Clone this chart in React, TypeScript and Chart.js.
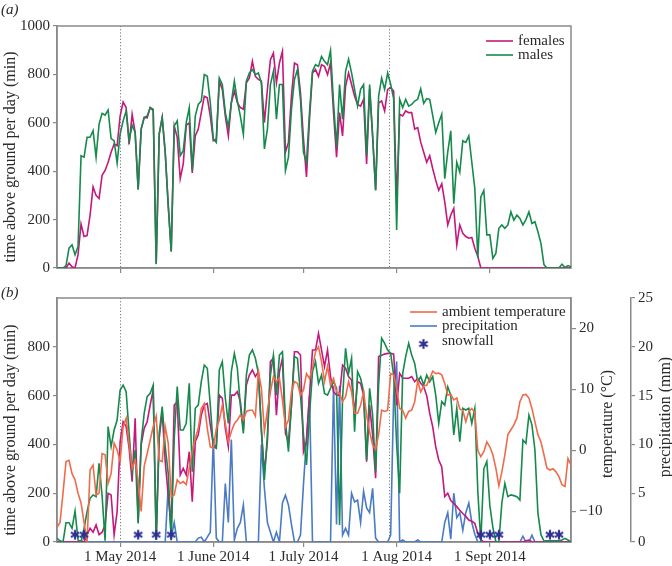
import React, { useEffect, useRef } from 'react';
import { Chart, registerables } from 'chart.js';

Chart.register(...registerables);

// x = day index, day 0 = 10 April 2014
const DAY_COUNT = 172;
const DAYS = Array.from({ length: DAY_COUNT }, (_, i) => i);

const MONTH_TICK_DAYS = [21, 52, 82, 113, 144];
const MONTH_TICK_LABELS = ['1 May 2014', '1 June 2014', '1 July 2014', '1 Aug 2014', '1 Sept 2014'];
const GUIDE_DAYS = [21, 110.6];

const TIME_TICKS_TOP = [0, 200, 400, 600, 800, 1000];
const TIME_TICKS_BOTTOM = [0, 200, 400, 600, 800];
const TEMP_TICKS = [-10, 0, 10, 20];
const PRECIP_TICKS = [0, 5, 10, 15, 20, 25];

// (a) time above ground per day (min)
const TOP_FEMALES = [
  0, 0, 0, 0, 20, 5, 0, 55, 182, 130,
  134, 218, 335, 300, 287, 383, 403, 437, 478, 512,
  505, 628, 686, 663, 512, 635, 560, 325, 574, 622,
  620, 663, 650, 20, 553, 622, 478, 260, 68, 587,
  540, 369, 430, 590, 600, 393, 546, 574, 642, 710,
  703, 628, 526, 533, 772, 738, 628, 546, 683, 731,
  683, 663, 656, 765, 785, 854, 792, 779, 772, 601,
  738, 861, 888, 765, 847, 895, 478, 519, 710, 847,
  840, 724, 533, 376, 615, 806, 820, 792, 840, 833,
  799, 847, 642, 458, 642, 546, 751, 806, 758, 710,
  676, 669, 697, 430, 740, 546, 321, 683, 690, 649,
  738, 745, 731, 273, 635, 628, 649, 642, 642, 574,
  580, 520, 478, 437, 464, 410, 362, 321, 348, 273,
  178, 219, 246, 96, 178, 143, 130, 123, 126, 82,
  48, 0, 0, 0, 0, 0, 0, 0, 0, 0,
  0, 0, 0, 0, 0, 0, 0, 0, 0, 0,
  0, 0, 0, 0, 0, 0, 0, 0, 0, 0,
  0, 0,
];
const TOP_MALES = [
  0, 0, 0, 10, 82, 96, 55, 89, 464, 458,
  540, 540, 567, 458, 594, 639, 632, 653, 535, 526,
  434, 553, 608, 649, 526, 590, 560, 325, 574, 622,
  628, 663, 656, 16, 553, 622, 478, 260, 68, 587,
  608, 464, 485, 601, 662, 403, 628, 676, 690, 799,
  792, 683, 533, 519, 785, 758, 642, 581, 683, 772,
  690, 628, 553, 772, 806, 820, 799, 806, 765, 492,
  574, 758, 813, 615, 758, 758, 403, 458, 656, 779,
  820, 697, 478, 437, 642, 813, 840, 833, 874, 854,
  840, 899, 683, 499, 758, 615, 813, 863, 806, 738,
  669, 738, 758, 464, 758, 546, 321, 710, 785, 738,
  806, 760, 700, 157, 697, 663, 697, 669, 676, 690,
  697, 740, 680, 700, 697, 630, 560, 600, 635, 369,
  480, 567, 266, 437, 396, 526, 519, 546, 437, 328,
  41, 294, 321, 137, 137, 40, 60, 164, 178, 164,
  178, 232, 198, 219, 205, 178, 200, 232, 184, 191,
  150, 102, 14, 0, 0, 0, 0, 0, 16, 2,
  10, 5,
];

// (b)
const BOTTOM_FEMALES = [
  0, 0, 0, 0, 0, 0, 0, 0, 5, 0,
  30, 56, 40, 70, 30, 40, 70, 200, 193, 29,
  124, 411, 493, 473, 384, 247, 507, 83, 398, 466,
  493, 561, 623, 10, 425, 534, 330, 193, 56, 561,
  575, 275, 302, 275, 370, 165, 411, 439, 520, 561,
  568, 480, 398, 391, 602, 589, 466, 391, 602, 602,
  616, 575, 459, 643, 684, 705, 678, 698, 452, 288,
  411, 739, 753, 520, 698, 753, 445, 411, 561, 780,
  780, 766, 370, 411, 602, 787, 787, 855, 787, 719,
  787, 678, 616, 602, 602, 725, 712, 678, 664, 527,
  657, 650, 602, 329, 561, 439, 261, 760, 765, 770,
  773, 773, 770, 560, 691, 671, 671, 671, 678, 657,
  671, 650, 636, 600, 527, 472, 390, 336, 308, 186,
  200, 170, 158, 145, 130, 117, 105, 90, 85, 77,
  35, 10, 0, 0, 0, 0, 0, 0, 0, 0,
  0, 0, 0, 0, 0, 0, 5, 8, 0, 0,
  0, 0, 0, 0, 0, 0, 0, 0, 0, 0,
  0, 0,
];
const BOTTOM_MALES = [
  15, 5, 0, 79, 79, 56, 127, 8, 0, 56,
  124, 179, 193, 186, 322, 190, 5, 473, 391, 459,
  500, 623, 643, 616, 445, 288, 377, 76, 411, 527,
  596, 609, 643, 8, 445, 555, 391, 281, 8, 425,
  637, 459, 459, 486, 650, 288, 548, 561, 657, 725,
  712, 561, 391, 384, 705, 739, 589, 486, 698, 773,
  712, 561, 445, 684, 766, 787, 753, 691, 466, 254,
  439, 684, 766, 602, 766, 780, 493, 370, 561, 760,
  753, 602, 439, 316, 520, 698, 740, 650, 684, 609,
  602, 630, 657, 630, 70, 589, 794, 691, 753, 452,
  698, 671, 616, 336, 630, 520, 288, 643, 835, 814,
  787, 773, 684, 400, 200, 690, 760, 814, 766, 732,
  657, 678, 643, 684, 657, 678, 602, 486, 575, 561,
  636, 602, 439, 548, 411, 548, 541, 548, 486, 548,
  206, 1, 300, 330, 150, 60, 1, 1, 160, 240,
  186, 193, 190, 186, 172, 418, 404, 520, 480, 377,
  117, 30, 4, 5, 5, 5, 5, 5, 8, 15,
  8, 0,
];
// ambient temperature (°C)
const TEMPERATURE_C = [
  -12.6, -11.8, -7, -1.8, -1.6, -3.8, -4.8, -7, -8.6, -11.8,
  -15, -3.2, -2.4, -7.3, -7, -0.5, -0.7, -5.4, -3.8, 1.2,
  0.1, -1.8, 3.9, 5.3, 1, -2.9, -1.6, -4.8, -10, -2.6,
  -0.5, 1.7, 3.9, 5.6, -1.6, -1.8, 3.9, 1.2, -7.6, -7.3,
  -4.8, -5.4, -5.1, -5.6, -2.9, -0.2, 2, 3.6, 6.9, 7.7,
  3.6, 0.6, 0.4, 3.6, 5, 7.4, 4.4, 1.4, 3.1, 4.4,
  5, 5.8, 5, 6.4, 6.6, 6.6, 5.6, 12.9, 10.2, 3.1,
  6.6, 9.6, 12.1, 11.3, 11.8, 8.3, 3.9, 5, 9.6, 11.3,
  11, 9.1, 9.9, 12.6, 11.8, 13.5, 16.2, 17, 14.6, 11.3,
  13.8, 10.7, 11.8, 9.6, 9.4, 8, 8.8, 11.3, 9.6, 6.1,
  6.1, 7.4, 9.6, 5.8, 3.1, 0.9, 0.2, 2.6, 6.6, 6.4,
  6.6, 12.6, 12.4, 10.2, 6.9, 6.6, 5.3, 6.4, 6.6, 8,
  11.4, 9.6, 10.6, 10.7, 11.8, 13, 12.6, 12.7, 12.4, 11,
  9.1, 9.2, 8.3, 8.6, 6.8, 6.6, 4.7, 6.4, 6.9, 6.2,
  0, -1, -0.2, 1.4, 0.6, -0.7, -2.9, -5.8, -3.5, -0.7,
  2.6, 3.4, 4.2, 5.3, 8, 9.1, 9.2, 8.6, 6.9, 4.7,
  2.6, 1.4, -0.7, -2.9, -3.2, -3, -3.5, -4.3, -5.6, -5.9,
  -1.3, -2.4,
];
// precipitation (mm)
const PRECIP_MM = [
  0, 0, 0, 0, 0, 0, 0, 0, 0, 0,
  0, 0, 0, 0, 0, 0, 0, 0, 0, 0,
  0, 0, 0, 0, 0, 0, 0, 0, 0, 0,
  0, 0, 0, 0, 0, 0, 0, 5.7, 0.5, 2,
  0, 0, 0, 0, 0, 0, 0, 0.4, 0.5, 0,
  0.5, 1, 10.6, 0.4, 0, 0, 6, 2, 10.5, 0.2,
  1.4, 2, 3.8, 0, 0, 0, 0, 0, 10, 5.5,
  2, 1, 0, 1, 0, 4, 4.8, 3.8, 1.8, 0,
  0, 0.7, 5.9, 10.6, 15, 0, 0, 0, 0, 0,
  0, 0, 16, 1.8, 16, 0.7, 1.4, 0.7, 5, 4.1,
  4.3, 2, 5.2, 3.5, 3, 5.5, 0.4, 0, 0, 0,
  0, 0.7, 15, 18.5, 0, 0.2, 0, 0, 0, 0,
  0.2, 0, 0, 0, 0, 0, 0, 0, 0, 2,
  3, 0.3, 5, 2.5, 3, 1.2, 3, 4, 2, 0.8,
  0, 0, 0, 0, 0, 0, 0, 0, 0, 0,
  0, 0, 0, 0, 0, 0.6, 0, 0, 0.7, 0,
  0, 0, 0, 0, 0, 0, 0, 0, 0, 0,
  0, 0,
];
const SNOW_DAYS = [6, 9, 27, 33, 38, 141, 144, 147, 164, 167];
const SNOW_MARK_LEVEL = 30;

const SERIF = '"Liberation Serif", "Times New Roman", "DejaVu Serif", serif';
const TEXT = '#2a2a2a';
const AXIS = '#8a8a8a';
const GUIDE = '#7a7a7a';
const MAGENTA = '#c4187c';
const GREEN = '#168a4c';
const ORANGE = '#ef6b4b';
const BLUE = '#4a7bc4';
const SNOW = '#2e3192';
const LW = 1.6;

function makeAsterisk(color: string) {
  const c = document.createElement('canvas');
  c.width = 12;
  c.height = 12;
  const g = c.getContext('2d')!;
  g.strokeStyle = color;
  g.lineWidth = 2.2;
  const r = 4.8;
  for (let k = 0; k < 3; k++) {
    const a = Math.PI / 2 + (k * Math.PI) / 3;
    g.beginPath();
    g.moveTo(6 - r * Math.cos(a), 6 - r * Math.sin(a));
    g.lineTo(6 + r * Math.cos(a), 6 + r * Math.sin(a));
    g.stroke();
  }
  return c;
}

type TextItem = { text: string; x: number; y: number; size: number; rotate?: boolean; italic?: boolean };
type LegendItem = { label: string; color: string; y: number; x0: number; x1: number; textX: number; mark?: boolean };

function decorPlugin(texts: TextItem[], legend: LegendItem[], star: HTMLCanvasElement) {
  return {
    id: 'decor',
    beforeDatasetsDraw(chart: any) {
      const { ctx, chartArea: a, scales } = chart;
      ctx.save();
      ctx.strokeStyle = GUIDE;
      ctx.lineWidth = 1;
      ctx.setLineDash([1.2, 2]);
      GUIDE_DAYS.forEach((d) => {
        const x = Math.round(scales.x.getPixelForValue(d)) + 0.5;
        ctx.beginPath();
        ctx.moveTo(x, a.top);
        ctx.lineTo(x, a.bottom);
        ctx.stroke();
      });
      ctx.setLineDash([]);
      ctx.strokeStyle = AXIS;
      ctx.lineWidth = 1.5;
      ctx.strokeRect(a.left, a.top, a.right - a.left, a.bottom - a.top);
      ctx.restore();
    },
    afterDraw(chart: any) {
      const { ctx } = chart;
      ctx.save();
      ctx.fillStyle = TEXT;
      ctx.textBaseline = 'middle';
      texts.forEach((t) => {
        ctx.font = `${t.italic ? 'italic ' : ''}${t.size}px ${SERIF}`;
        if (t.rotate) {
          ctx.save();
          ctx.translate(t.x, t.y);
          ctx.rotate(-Math.PI / 2);
          ctx.textAlign = 'center';
          ctx.fillText(t.text, 0, 0);
          ctx.restore();
        } else {
          ctx.textAlign = 'left';
          ctx.fillText(t.text, t.x, t.y);
        }
      });
      legend.forEach((l) => {
        if (l.mark) {
          ctx.drawImage(star, (l.x0 + l.x1) / 2 - 6, l.y + 3 - 6);
        } else {
          ctx.strokeStyle = l.color;
          ctx.lineWidth = LW;
          ctx.beginPath();
          ctx.moveTo(l.x0, l.y);
          ctx.lineTo(l.x1, l.y);
          ctx.stroke();
        }
        ctx.fillStyle = TEXT;
        ctx.font = `15px ${SERIF}`;
        ctx.textAlign = 'left';
        ctx.fillText(l.label, l.textX, l.y);
      });
      ctx.restore();
    },
  };
}

const tickFont = { family: SERIF, size: 15 };
const plainLabel = (v: number) => (v < 0 ? '\u2212' + Math.abs(v) : String(v));

function xScale(showLabels: boolean, height: number) {
  return {
    type: 'linear',
    min: 0,
    max: DAY_COUNT - 1,
    afterBuildTicks: (s: any) => {
      s.ticks = MONTH_TICK_DAYS.map((v) => ({ value: v }));
    },
    afterFit: (s: any) => {
      s.height = height;
    },
    ticks: {
      display: showLabels,
      autoSkip: false,
      maxRotation: 0,
      font: tickFont,
      color: TEXT,
      padding: 1,
      callback: (v: number) => {
        const i = MONTH_TICK_DAYS.indexOf(v);
        return i >= 0 ? MONTH_TICK_LABELS[i] : '';
      },
    },
    grid: { drawOnChartArea: false, tickLength: 5, color: AXIS, lineWidth: 1.2 },
    border: { color: AXIS, width: 1.5 },
  };
}

function timeScale(ticks: number[]) {
  return {
    type: 'linear',
    position: 'left',
    min: 0,
    max: 1000,
    afterBuildTicks: (s: any) => {
      s.ticks = ticks.map((v) => ({ value: v }));
    },
    afterFit: (s: any) => {
      s.width = 57;
    },
    ticks: { font: tickFont, color: TEXT, padding: 3, callback: (v: number) => plainLabel(v) },
    grid: { drawOnChartArea: false, tickLength: 4, color: AXIS, lineWidth: 1.2 },
    border: { color: AXIS, width: 1.5 },
  };
}

export default function App() {
  const topRef = useRef<HTMLCanvasElement>(null);
  const botRef = useRef<HTMLCanvasElement>(null);

  useEffect(() => {
    document.body.style.margin = '0';
    const star = makeAsterisk(SNOW);
    const line = (label: string, data: number[], color: string, yAxisID = 'y') => ({
      label,
      data,
      yAxisID,
      borderColor: color,
      backgroundColor: color,
      borderWidth: LW,
      pointRadius: 0,
      tension: 0,
      fill: false,
    });

    const top = new Chart(topRef.current!, {
      type: 'line',
      data: {
        labels: DAYS,
        datasets: [line('males', TOP_MALES, GREEN), line('females', TOP_FEMALES, MAGENTA)],
      },
      options: {
        responsive: false,
        maintainAspectRatio: false,
        animation: false,
        layout: { padding: { top: 26, right: 101, left: 0, bottom: 0 } },
        plugins: { legend: { display: false }, tooltip: { enabled: false } },
        scales: { x: xScale(false, 10), y: timeScale(TIME_TICKS_TOP) } as any,
      },
      plugins: [
        decorPlugin(
          [
            { text: '(a)', x: 1, y: 10, size: 15, italic: true },
            { text: 'time above ground per day (min)', x: 11, y: 157, size: 16, rotate: true },
          ],
          [
            { label: 'females', color: MAGENTA, y: 41, x0: 486, x1: 513, textX: 518 },
            { label: 'males', color: GREEN, y: 55, x0: 486, x1: 513, textX: 518 },
          ],
          star,
        ) as any,
      ],
    });

    const bottom = new Chart(botRef.current!, {
      type: 'line',
      data: {
        labels: DAYS,
        datasets: [
          {
            label: 'snowfall',
            data: SNOW_DAYS.map((d) => ({ x: d, y: SNOW_MARK_LEVEL })),
            yAxisID: 'y',
            showLine: false,
            pointStyle: star,
            pointRadius: 5,
            borderColor: SNOW,
            backgroundColor: SNOW,
          } as any,
          line('ambient temperature', TEMPERATURE_C, ORANGE, 'yT'),
          line('males', BOTTOM_MALES, GREEN),
          line('females', BOTTOM_FEMALES, MAGENTA),
          line('precipitation', PRECIP_MM, BLUE, 'yP'),
        ],
      },
      options: {
        responsive: false,
        maintainAspectRatio: false,
        animation: false,
        layout: { padding: { top: 18, right: 0, left: 0, bottom: 0 } },
        plugins: { legend: { display: false }, tooltip: { enabled: false } },
        scales: {
          x: xScale(true, 24),
          y: timeScale(TIME_TICKS_BOTTOM),
          yT: {
            type: 'linear',
            position: 'right',
            weight: 0,
            min: -15,
            max: 25,
            afterBuildTicks: (s: any) => {
              s.ticks = TEMP_TICKS.map((v) => ({ value: v }));
            },
            afterFit: (s: any) => {
              s.width = 60;
            },
            ticks: { font: tickFont, color: TEXT, padding: 3, callback: (v: number) => plainLabel(v) },
            grid: { drawOnChartArea: false, tickLength: 5, color: AXIS, lineWidth: 1.2 },
            border: { color: AXIS, width: 1.5 },
          },
          yP: {
            type: 'linear',
            position: 'right',
            weight: 1,
            min: 0,
            max: 25,
            afterBuildTicks: (s: any) => {
              s.ticks = PRECIP_TICKS.map((v) => ({ value: v }));
            },
            afterFit: (s: any) => {
              s.width = 41;
            },
            ticks: { font: tickFont, color: TEXT, padding: 3, callback: (v: number) => plainLabel(v) },
            grid: { drawOnChartArea: false, tickLength: 4, color: AXIS, lineWidth: 1.2 },
            border: { color: AXIS, width: 1.5 },
          },
        } as any,
      },
      plugins: [
        decorPlugin(
          [
            { text: '(b)', x: 1, y: 13, size: 15, italic: true },
            { text: 'time above ground per day (min)', x: 11, y: 150, size: 16, rotate: true },
            { text: 'temperature (\u00B0C)', x: 608, y: 144, size: 16, rotate: true },
            { text: 'precipitation (mm)', x: 666, y: 137, size: 16, rotate: true },
          ],
          [
            { label: 'ambient temperature', color: ORANGE, y: 32, x0: 410, x1: 437, textX: 442 },
            { label: 'precipitation', color: BLUE, y: 46, x0: 410, x1: 437, textX: 442 },
            { label: 'snowfall', color: SNOW, y: 61, x0: 410, x1: 437, textX: 442, mark: true },
          ],
          star,
        ) as any,
      ],
    });

    return () => {
      top.destroy();
      bottom.destroy();
    };
  }, []);

  return (
    <div style={{ position: 'relative', width: 672, height: 566, background: '#fff' }}>
      <canvas
        ref={topRef}
        width={672}
        height={280}
        style={{ position: 'absolute', left: 0, top: 0, width: 672, height: 280 }}
      />
      <canvas
        ref={botRef}
        width={672}
        height={286}
        style={{ position: 'absolute', left: 0, top: 280, width: 672, height: 286 }}
      />
    </div>
  );
}
